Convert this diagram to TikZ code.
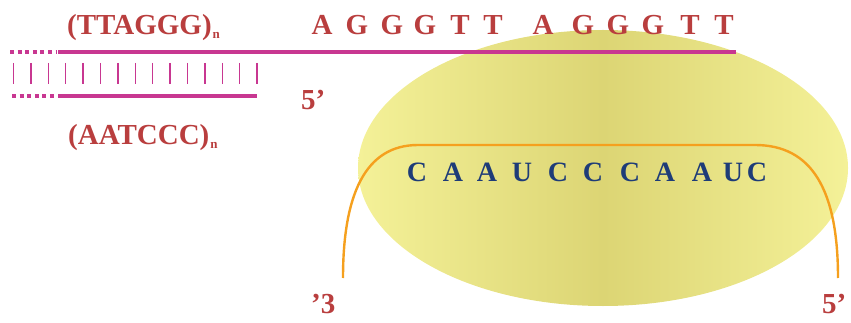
\documentclass[tikz,border=0pt]{standalone}
\usepackage{fontspec}
\setmainfont{Liberation Serif}
\definecolor{dnamag}{RGB}{200,55,145}
\definecolor{dnatxt}{RGB}{185,62,62}
\definecolor{rnablue}{RGB}{30,60,120}
\definecolor{rnaor}{RGB}{245,160,30}
\definecolor{ellE}{RGB}{244,241,152}
\definecolor{ellM}{RGB}{220,213,116}
\tikzset{
  dnaline/.style={draw=dnamag,line width=4pt},
  dnadots/.style={draw=dnamag,line width=4pt,dash pattern=on 4pt off 3.6pt},
  tick/.style={draw=dnamag,line width=1.4pt},
  redtxt/.style={text=dnatxt,font=\bfseries\fontsize{29}{31}\selectfont,inner sep=0pt,anchor=base},
  bluetxt/.style={text=rnablue,font=\bfseries\fontsize{28}{30}\selectfont,inner sep=0pt,anchor=base},
  rnaline/.style={draw=rnaor,line width=2.4pt}
}
\begin{document}
\begin{tikzpicture}[x=1pt,y=-1pt]
\useasboundingbox (0,0) rectangle (851,323);
% ellipse
\shade[left color=ellE,right color=ellE,middle color=ellM] (603,168) ellipse [x radius=245,y radius=138];
% DNA lines
\coordinate (t0) at (10,52); \coordinate (t1) at (56,52); \coordinate (t2) at (58,52); \coordinate (t3) at (736,52);
\coordinate (b0) at (12,96); \coordinate (b1) at (56,96); \coordinate (b2) at (58,96); \coordinate (b3) at (257,96);
\draw[dnadots] (t0) -- (t1);
\draw[dnaline] (t2) -- (t3);
\draw[dnadots] (b0) -- (b1);
\draw[dnaline] (b2) -- (b3);
\foreach \i in {0,...,14} {
  \draw[tick] ({13.5+\i*17.4},63) -- ({13.5+\i*17.4},84);
}
% labels
\node[redtxt,anchor=base west] (ttaggg) at (67,35) {(TTAGGG)\kern1pt\raisebox{-4pt}{\fontsize{13}{13}\selectfont n}};
\node[redtxt,anchor=base west] (aatccc) at (68,145) {(AATCCC)\kern1pt\raisebox{-4pt}{\fontsize{13}{13}\selectfont n}};
\node[redtxt,anchor=base west] (five1) at (301,110) {5’};
\foreach \x/\l [count=\k] in {322/A,357/G,392/G,425/G,460/T,493/T,543/A,583/G,618/G,653/G,690/T,724/T} {
  \node[redtxt] (s\k) at (\x,35) {\l};
}
% RNA
\coordinate (r0) at (343,278); \coordinate (r1) at (418,145); \coordinate (r2) at (755,145); \coordinate (r3) at (838,278);
\draw[rnaline] (r0) .. controls (343,195) and (365,145) .. (r1) -- (r2) .. controls (812,145) and (838,190) .. (r3);
\foreach \x/\l [count=\k] in {417/C,453/A,487/A,522/U,558/C,593/C,630/C,665/A,702/A,733/U,757/C} {
  \node[bluetxt] (c\k) at (\x,182) {\l};
}
\node[redtxt,anchor=base west] (three) at (311,313) {’3};
\node[redtxt,anchor=base west] (five2) at (822,313) {5’};
\end{tikzpicture}
\end{document}
